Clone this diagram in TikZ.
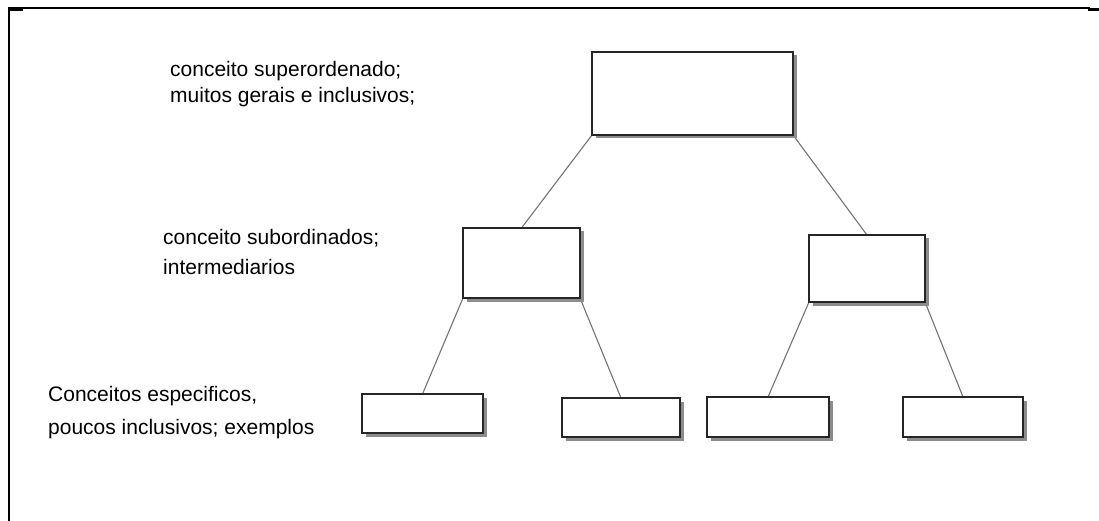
\documentclass[tikz,border=0pt]{standalone}
\usepackage{fontspec}
\setmainfont{Liberation Sans}
\usetikzlibrary{shadows,backgrounds}

\begin{document}
\begin{tikzpicture}[x=1pt, y=-1pt,
		conceptbox/.style={draw=black!85, line width=1.6pt, fill=white, inner sep=0pt, outer sep=0pt,
			drop shadow={shadow xshift=3.5pt, shadow yshift=-3.5pt, fill=black!45, opacity=1}},
		link/.style={draw=black!55, line width=1.1pt},
		levellabel/.style={anchor=west, align=left, inner sep=0pt, font=\fontsize{21}{26}\selectfont}]
		%%%%% START %%%%%
		\useasboundingbox (0,0) rectangle (1099,521);
		
		% frame
		\draw[line width=2.2pt] (9,521) -- (9,8) -- (1090,8);
		\draw[line width=1.6pt] (9,10) -- (23,10);
		\draw[line width=2.6pt] (1088,9.5) -- (1099,9.5);
		
		% levels
		\node[levellabel] (supLabel) at (170,84) {conceito superordenado;\\muitos gerais e inclusivos;};
		\node[levellabel] (subLabel) at (163,252) {conceito subordinados;\\[4pt]intermediarios};
		\node[levellabel] (specLabel) at (48,413) {Conceitos especificos,\\[7pt]poucos inclusivos; exemplos};
		
		% boxes
		\node[conceptbox, minimum width=201pt, minimum height=83pt] (top) at (692.5,93.5) {};
		
		\node[conceptbox, minimum width=117pt, minimum height=70pt] (midL) at (521.5,263) {};
		\node[conceptbox, minimum width=116pt, minimum height=67pt] (midR) at (867,268.5) {};
		
		\node[conceptbox, minimum width=121pt, minimum height=39pt] (leafA) at (422.5,413.5) {};
		\node[conceptbox, minimum width=118pt, minimum height=39pt] (leafB) at (621,417.5) {};
		\node[conceptbox, minimum width=122pt, minimum height=40pt] (leafC) at (768,417) {};
		\node[conceptbox, minimum width=120pt, minimum height=40pt] (leafD) at (963,417) {};
		
		% links
		\begin{scope}[on background layer]
			\draw[link] (top.south west) -- (midL.north);
			\draw[link] (top.south east) -- (midR.north);
			\draw[link] (midL.south west) -- (leafA.north);
			\draw[link] (midL.south east) -- (leafB.north);
			\draw[link] (midR.south west) -- (leafC.north);
			\draw[link] (midR.south east) -- (leafD.north);
		\end{scope}
		
		%%%%% END %%%%%
\end{tikzpicture}
\end{document}
